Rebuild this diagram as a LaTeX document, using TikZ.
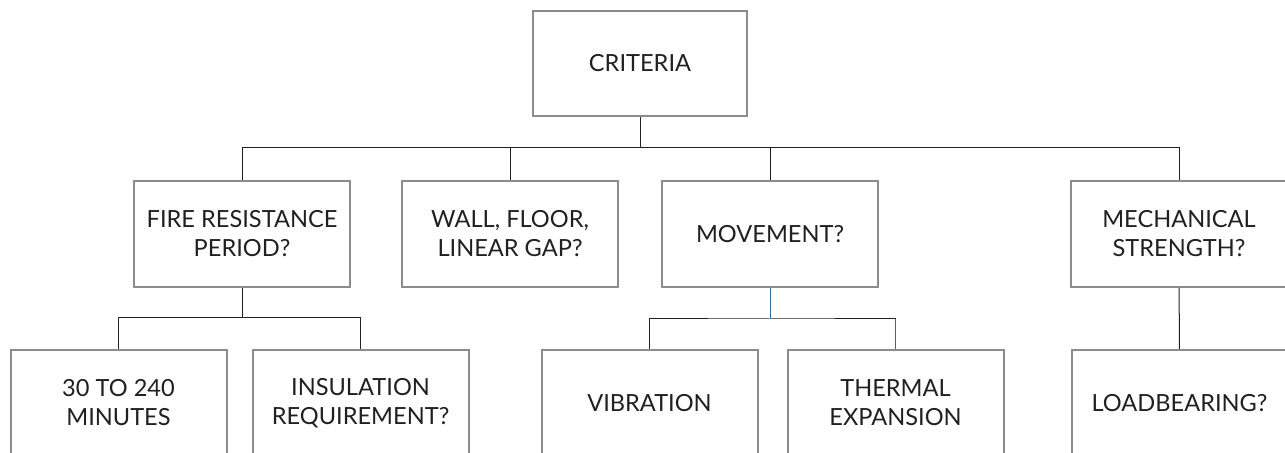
\documentclass[tikz,border=0pt]{standalone}
\usepackage{fontspec}
\setmainfont{Lato}
\usetikzlibrary{positioning}
\definecolor{boxgray}{HTML}{8C8C8C}
\definecolor{inkgray}{HTML}{231F20}
\definecolor{linkblue}{HTML}{2B6CA3}
\tikzset{
box/.style={draw=boxgray, line width=1pt, fill=white, text=inkgray, align=center,
  minimum width=108pt, minimum height=53pt, inner sep=0pt,
  font=\fontsize{11.8pt}{14.5pt}\selectfont}, % every question box
link/.style={draw=inkgray, line width=0.5pt}, % the tree lines
bluelink/.style={draw=linkblue, line width=0.5pt}, % the blue pieces under MOVEMENT?
}

\begin{document}
\begin{tikzpicture}[x=0.5pt, y=-0.5pt]
  \useasboundingbox (0,0) rectangle (1285,453);

       \node[box, minimum width=107pt, minimum height=52.5pt] (CRIT) at (640,63.5) {CRITERIA};
       \node[box, below=31.5pt of CRIT, xshift=-199pt] (FRP) {FIRE RESISTANCE\\PERIOD?};
       \node[box, right=25pt of FRP] (GAP) {WALL, FLOOR,\\LINEAR GAP?};
       \node[box, right=21pt of GAP] (MOV) {MOVEMENT?};
       \node[box, right=95.5pt of MOV] (MECH) {MECHANICAL\\STRENGTH?};
       \node[box, below=30.5pt of FRP, xshift=-61.75pt] (MIN) {30 TO 240\\MINUTES};
       \node[box, right=12pt of MIN] (INS) {INSULATION\\REQUIREMENT?};
       \node[box, right=35.5pt of INS] (VIB) {VIBRATION};
       \node[box, right=14pt of VIB] (THERM) {THERMAL\\EXPANSION};
       \node[box, right=33pt of THERM] (LOAD) {LOADBEARING?};

       \coordinate[below=15.5pt of CRIT] (CRITbus);
       \coordinate[below=15pt of FRP] (FRPbus);
       \coordinate[below=15.5pt of MOV] (MOVbus);

     \draw[link] (CRIT) -- (CRITbus)
           (CRITbus) -| (FRP.north)
           (CRITbus) -| (GAP.north)
           (CRITbus) -| (MOV.north)
           (CRITbus) -| (MECH.north);
     \draw[link] (FRP) -- (FRPbus)
           (FRPbus) -| (MIN.north)
           (FRPbus) -| (INS.north);
     \draw[link] (VIB.north) |- (MOVbus) -- (MOVbus -| THERM.north);
     \draw[bluelink] (MOV) -- (MOVbus)
           (MOVbus -| THERM.north) -- (THERM.north);
     \draw[link] (MECH) -- (LOAD);

  \end{tikzpicture}
\end{document}
